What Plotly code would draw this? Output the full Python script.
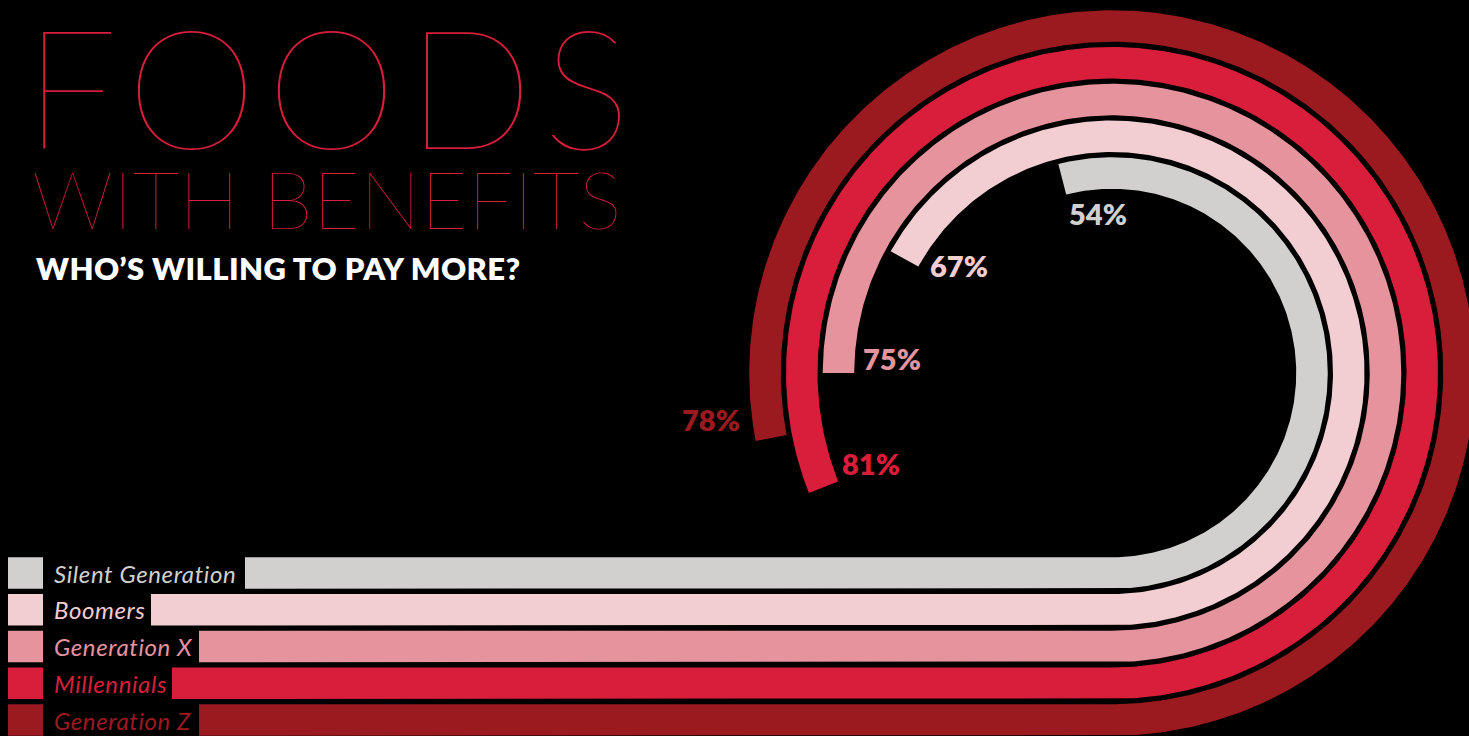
import numpy as np
import plotly.graph_objects as go

# Share of each generation willing to pay more for foods with benefits
generations = ["Silent Generation", "Boomers", "Generation X", "Millennials", "Generation Z"]
willing_pct = [54, 67, 75, 81, 78]
band_colors = ["#d1d0ce", "#f2cdd2", "#e5939d", "#d81e3a", "#9b1a20"]

# Page geometry: axes are mapped 1:1 onto the page pixels
W, H = 1469, 736
CX, CY = 1112, 373            # centre of the concentric arcs
R0, PITCH, HALF = 200, 36.75, 15.75
BAR_LEFT = [245, 151, 199, 172, 199]   # straight bars start after their labels
SWATCH_X = (8, 43)
LABEL_X = 52
# label offsets (px) from the end of each arc
PCT_SHIFT = [(36, -34), (54, -7), (53, 15), (47, 24), (-60, 19)]

TITLE_RED = "#d81e3a"
FONT = "Lato"


def spaced(text, px):
    return f"<span style='letter-spacing:{px}px'>{text}</span>"


fig = go.Figure()
annotations = []
shapes = []

for i, (name, pct, col) in enumerate(zip(generations, willing_pct, band_colors)):
    r = R0 + i * PITCH
    sweep = np.radians(pct / 100 * 360)
    t = np.linspace(0, sweep, 400)
    ro, ri = r + HALF, r - HALF
    y_bar = CY + r
    # outer edge: straight bar then arc running bottom -> right -> top -> left
    xs = [BAR_LEFT[i], CX] + list(CX + ro * np.sin(t))
    ys = [y_bar + HALF, y_bar + HALF] + list(CY + ro * np.cos(t))
    # inner edge back to the start
    xs += list(CX + ri * np.sin(t[::-1])) + [CX, BAR_LEFT[i], BAR_LEFT[i]]
    ys += list(CY + ri * np.cos(t[::-1])) + [y_bar - HALF, y_bar - HALF, y_bar + HALF]
    fig.add_trace(go.Scatter(
        x=xs, y=ys, mode="lines", fill="toself", fillcolor=col,
        line=dict(width=0, color=col), hoverinfo="skip", showlegend=False,
    ))

    # colour swatch and generation label
    shapes.append(dict(type="rect", xref="x", yref="y",
                       x0=SWATCH_X[0], x1=SWATCH_X[1],
                       y0=y_bar - HALF, y1=y_bar + HALF,
                       fillcolor=col, line=dict(width=0)))
    annotations.append(dict(
        x=LABEL_X, y=y_bar, xref="x", yref="y", text=spaced(name, 0.6),
        showarrow=False, xanchor="left", yanchor="middle",
        font=dict(family=FONT, size=24, color=col, style="italic"),
    ))

    # percentage label near the arc end
    ex, ey = CX + r * np.sin(sweep), CY + r * np.cos(sweep)
    dx, dy = PCT_SHIFT[i]
    annotations.append(dict(
        x=ex, y=ey, xref="x", yref="y", text=f"{pct}%", showarrow=False,
        xanchor="center", yanchor="middle", xshift=dx, yshift=dy,
        font=dict(family=FONT, size=29, color=col, weight=800),
    ))

# Title block (all capitals, so the text boxes are trimmed to the cap height)
annotations += [
    dict(x=22, y=84, xref="x", yref="y", text=spaced("FOODS", 10), showarrow=False,
         xanchor="left", yanchor="middle", height=140,
         font=dict(family=FONT, size=166, color=TITLE_RED, weight=100)),
    dict(x=30, y=197, xref="x", yref="y", text="WITH BENEFITS", showarrow=False,
         xanchor="left", yanchor="middle", height=68,
         font=dict(family=FONT, size=81, color=TITLE_RED, weight=100)),
    dict(x=34, y=268, xref="x", yref="y", text=spaced("WHO’S WILLING TO PAY MORE?", 0.4),
         showarrow=False, xanchor="left", yanchor="middle",
         font=dict(family=FONT, size=31, color="#ffffff", weight=800)),
]

fig.update_layout(
    width=W, height=H, margin=dict(l=0, r=0, t=0, b=0),
    paper_bgcolor="#000000", plot_bgcolor="#000000",
    xaxis=dict(range=[0, W], visible=False, fixedrange=True),
    yaxis=dict(range=[H, 0], visible=False, fixedrange=True),
    annotations=annotations, shapes=shapes, showlegend=False,
)

fig.write_html("out.html", config={"displayModeBar": False})
